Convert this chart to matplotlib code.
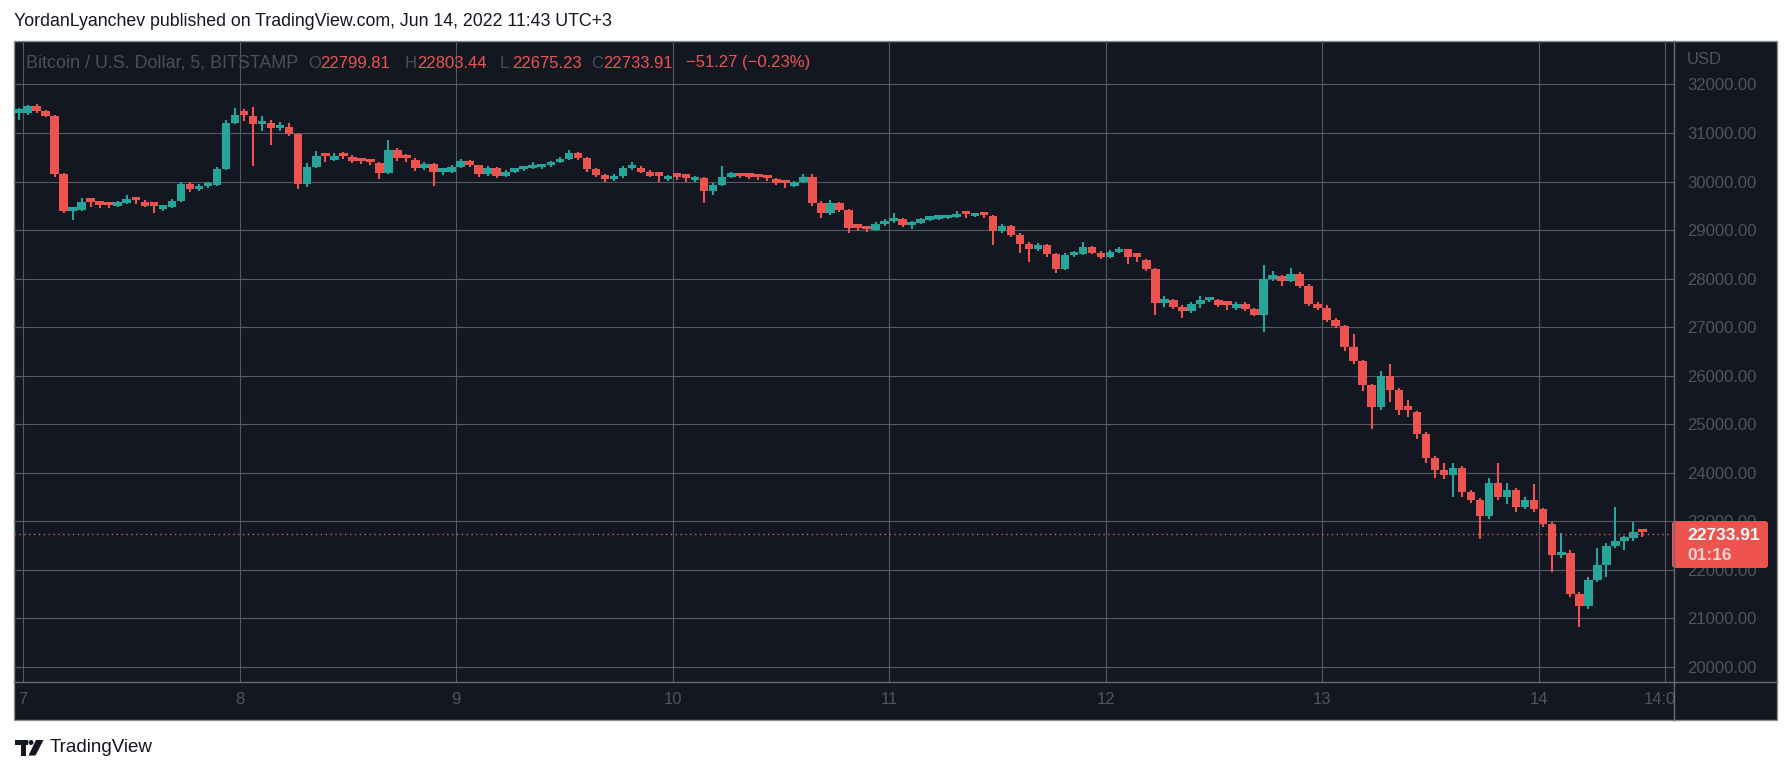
import matplotlib
matplotlib.use("Agg")
import matplotlib.pyplot as plt
from matplotlib.patches import Rectangle, Circle, Polygon, FancyBboxPatch
from matplotlib.transforms import Bbox, TransformedBbox

W, H = 1791, 774

first_open = 31420
closes = [
    31420, 31550, 31450, 31350, 30150, 29400, 29420, 29580, 29520, 29510,
    29500, 29560, 29620, 29580, 29500, 29440, 29480, 29600, 29950, 29840,
    29900, 29930, 30250, 31200, 31380, 31350, 31180, 31200, 31100, 31120,
    30980, 29950, 30300, 30520, 30450, 30520, 30500, 30420, 30400, 30380,
    30180, 30650, 30480, 30450, 30270, 30370, 30200, 30200, 30300, 30420,
    30330, 30150, 30270, 30120, 30200, 30250, 30280, 30300, 30330, 30400,
    30460, 30580, 30480, 30250, 30130, 30050, 30120, 30280, 30280, 30200,
    30120, 30050, 30100, 30080, 30030, 30080, 29800, 29920, 30100, 30110,
    30100, 30090, 30070, 30060, 29960, 29900, 29980, 30100, 29550, 29350,
    29550, 29420, 29050, 29020, 29010, 29120, 29180, 29220, 29100, 29150,
    29210, 29230, 29250, 29260, 29330, 29280, 29300, 29290, 28980, 29080,
    28900, 28720, 28600, 28700, 28500, 28200, 28480, 28500, 28650, 28530,
    28450, 28550, 28600, 28450, 28380, 28200, 27500, 27550, 27420, 27330,
    27480, 27560, 27560, 27460, 27390, 27480, 27370, 27260, 28000, 28050,
    27950, 28100, 27850, 27480, 27400, 27150, 27030, 26600, 26300, 25800,
    25350, 26000, 25700, 25300, 25250, 24800, 24300, 24050, 23950, 24100,
    23600, 23450, 23100, 23800, 23500, 23650, 23300, 23450, 23250, 22950,
    22300, 22350, 21500, 21250, 21800, 22100, 22500, 22600, 22650, 22780,
    22733.91,
]
highs = [
    31510, 31580, 31590, 31480, 31380, 30180, 29460, 29660, 29620, 29570,
    29560, 29600, 29720, 29660, 29620, 29530, 29520, 29640, 29980, 29990,
    29940, 29980, 30290, 31260, 31520, 31500, 31540, 31350, 31260, 31230,
    31200, 31000, 30380, 30620, 30560, 30580, 30600, 30540, 30460, 30440,
    30400, 30860, 30700, 30560, 30480, 30410, 30390, 30260, 30340, 30470,
    30450, 30350, 30310, 30290, 30240, 30280, 30310, 30400, 30360, 30430,
    30500, 30650, 30610, 30500, 30280, 30160, 30160, 30320, 30400, 30310,
    30230, 30150, 30130, 30180, 30110, 30110, 30100, 29960, 30310, 30200,
    30150, 30130, 30120, 30100, 30080, 29990, 30010, 30150, 30160, 29600,
    29620, 29580, 29440, 29110, 29060, 29160, 29220, 29360, 29240, 29180,
    29240, 29260, 29280, 29290, 29390, 29350, 29330, 29330, 29300, 29120,
    29100, 28930, 28750, 28740, 28720, 28520, 28520, 28560, 28750, 28680,
    28560, 28580, 28650, 28620, 28500, 28400, 28220, 27650, 27580, 27450,
    27520, 27640, 27620, 27590, 27490, 27520, 27510, 27400, 28280, 28150,
    28080, 28210, 28130, 27880, 27520, 27450, 27180, 27050, 26850, 26330,
    25820, 26100, 26240, 25750, 25500, 25280, 24850, 24350, 24200, 24200,
    24130, 23650, 23480, 23900, 24200, 23780, 23680, 23500, 23760, 23280,
    22980, 22770, 22400, 21550, 21850, 22450, 22550, 23300, 22700, 22990,
    22803.44,
]
lows = [
    31270, 31380, 31420, 31320, 30100, 29350, 29200, 29390, 29470, 29460,
    29450, 29470, 29540, 29540, 29470, 29350, 29400, 29450, 29580, 29780,
    29810, 29870, 29910, 30230, 31180, 31250, 30310, 31050, 30750, 31040,
    30940, 29850, 29880, 30280, 30400, 30420, 30460, 30380, 30360, 30330,
    30060, 30150, 30420, 30400, 30220, 30240, 29900, 30130, 30170, 30270,
    30290, 30100, 30120, 30080, 30100, 30170, 30220, 30250, 30260, 30300,
    30380, 30440, 30450, 30200, 30100, 30000, 30020, 30080, 30240, 30170,
    30090, 30000, 30020, 30040, 29990, 30000, 29550, 29720, 29900, 30070,
    30070, 30060, 30040, 30020, 29930, 29870, 29880, 29960, 29500, 29250,
    29320, 29380, 28930, 28980, 28950, 28980, 29090, 29150, 29060, 29030,
    29120, 29180, 29200, 29220, 29240, 29250, 29260, 29250, 28700, 28940,
    28860, 28530, 28340, 28560, 28450, 28120, 28180, 28440, 28480, 28500,
    28400, 28420, 28520, 28300, 28340, 28160, 27250, 27420, 27380, 27180,
    27300, 27390, 27510, 27420, 27350, 27360, 27330, 27220, 26890, 27950,
    27850, 27920, 27800, 27430, 27350, 27100, 26980, 26500, 26250, 25680,
    24900, 25300, 25450, 25200, 25150, 24700, 24200, 23900, 23880, 23500,
    23500, 23380, 22630, 23050, 23450, 23350, 23200, 23250, 23200, 22880,
    21950, 22250, 21450, 20830, 21200, 21750, 21850, 22450, 22400, 22600,
    22675.23,
]
hours = list(range(-1, len(closes) - 1))
opens = [first_open] + closes[:-1]

last_price = 22733.91
countdown = "01:16"
price_ticks = list(range(20000, 32001, 1000))
day_hours = [0, 24, 48, 72, 96, 120, 144, 168, 182]
day_labels = ["7", "8", "9", "10", "11", "12", "13", "14", "14:00"]

BG = "#131722"
GRID = "#565a65"
SEP = "#666974"
UP = "#26a69a"
DOWN = "#ef5350"
AXTXT = "#50545f"
FONT = ["Liberation Sans", "DejaVu Sans"]
plt.rcParams["font.family"] = FONT

fig = plt.figure(figsize=(W / 100, H / 100), dpi=100, facecolor="white")

# pixel-coordinate layers below and above the chart
bg = fig.add_axes([0, 0, 1, 1], zorder=0)
bg.set_xlim(0, W)
bg.set_ylim(H, 0)
bg.axis("off")
bg.add_patch(Rectangle((14, 41), 1777 - 14, 720 - 41, facecolor=BG,
                       edgecolor="#8c8f99", lw=1))

ax = fig.add_axes([14 / W, 1 - 682 / H, (1674 - 14) / W, (682 - 41) / H], zorder=1)
ax.set_facecolor("none")
ax.set_xlim(-1, 183)
ax.set_ylim(19691, 32894)
for s in ax.spines.values():
    s.set_visible(False)

for p in price_ticks:
    ax.axhline(p, color=GRID, lw=0.8, zorder=0)
for h in day_hours:
    ax.axvline(h, color=GRID, lw=0.8, zorder=0)

# candles drawn edge to edge so they read as the dense 5-minute band
cols = [UP if c >= o else DOWN for o, c in zip(opens, closes)]
xs = [h + 0.5 for h in hours]
ax.vlines(xs, lows, highs, colors=cols, lw=1.5, zorder=2)
body = [c - o if abs(c - o) > 70 else 70 for o, c in zip(opens, closes)]
ax.bar(xs, body, bottom=opens, width=0.95, color=cols, lw=0, zorder=3)

ax.axhline(last_price, color=DOWN, lw=1, ls=(0, (1, 2.5)), zorder=4)

# price scale on the right
ax.yaxis.tick_right()
ax.set_yticks(price_ticks)
ax.set_yticklabels([f"{p:.2f}" for p in price_ticks])
ax.tick_params(axis="y", length=0, pad=9.5, labelsize=12, labelcolor=AXTXT)

# time scale
ax.set_xticks(day_hours)
ax.set_xticklabels(day_labels)
ax.tick_params(axis="x", length=0, pad=7, labelsize=12, labelcolor=AXTXT)
clip = TransformedBbox(Bbox([[0, 0], [1674 / W, 1]]), fig.transFigure)
lab = ax.get_xticklabels()[-1]
lab.set_clip_on(True)
lab.set_clip_box(clip)

top = fig.add_axes([0, 0, 1, 1], zorder=3)
top.set_xlim(0, W)
top.set_ylim(H, 0)
top.axis("off")
top.set_facecolor("none")

top.plot([1674, 1674], [41, 720], color=SEP, lw=1)
top.plot([14, 1777], [682, 682], color=SEP, lw=1)

r = fig.canvas.get_renderer()


def fit(t, width):
    w = t.get_window_extent(r).width
    t.set_fontsize(t.get_fontsize() * width / w)


t = top.text(14, 22, "YordanLyanchev published on TradingView.com, Jun 14, 2022 11:43 UTC+3",
             fontsize=12, color="#131722", va="center", ha="left")
fit(t, 598)

t = top.text(26, 63, "Bitcoin / U.S. Dollar, 5, BITSTAMP", fontsize=12,
             color="#4b4f5b", va="center", ha="left")
fit(t, 272)
ohlc = [("O", 308, "22799.81"), ("H", 405, "22803.44"),
        ("L", 500, "22675.23"), ("C", 591, "22733.91")]
for k, x, v in ohlc:
    top.text(x, 63, k, fontsize=12, color="#4b4f5b", va="center", ha="left")
    top.text(x + 12, 63, v, fontsize=12, color=DOWN, va="center", ha="left")
top.text(686, 63, "\u221251.27 (\u22120.23%)", fontsize=12, color=DOWN,
         va="center", ha="left")

top.text(1687, 60, "USD", fontsize=12, color=AXTXT, va="center", ha="left")

# last price badge
top.add_patch(FancyBboxPatch((1672, 521), 96, 47,
                             boxstyle="round,pad=0,rounding_size=3",
                             fc=DOWN, ec="none"))
top.text(1687, 535, f"{last_price:.2f}", fontsize=12.5, fontweight="bold",
         color="white", va="center", ha="left")
top.text(1687, 555, countdown, fontsize=12.5, fontweight="bold",
         color="#fcd6d5", va="center", ha="left")

# TradingView logo
ink = "#131722"
top.add_patch(Rectangle((15, 740), 13, 5, fc=ink, ec="none"))
top.add_patch(Rectangle((20.5, 740), 5.5, 15.5, fc=ink, ec="none"))
top.add_patch(Circle((31, 742.5), 2.5, fc=ink, ec="none"))
top.add_patch(Polygon([(36, 740), (43.5, 740), (35.5, 755.5), (28.5, 755.5)],
                      closed=True, fc=ink, ec="none"))
top.text(50, 748, "TradingView", fontsize=13.5, color=ink, va="center", ha="left")

fig.savefig("out.png", dpi=100, facecolor="white")
